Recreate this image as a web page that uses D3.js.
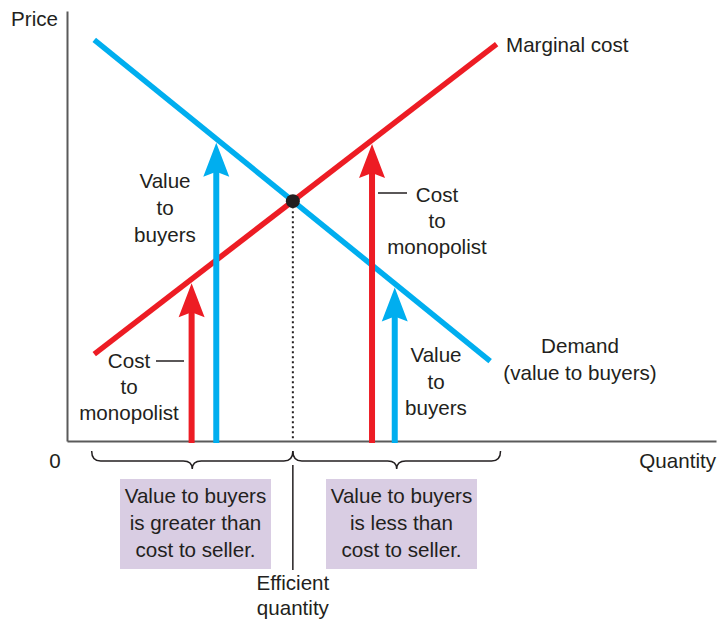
<!DOCTYPE html>
<html>
<head>
<meta charset="utf-8">
<script src="https://cdn.jsdelivr.net/npm/d3@7"></script>
<style>
  html, body { margin: 0; padding: 0; background: #fff; }
  svg text { font-family: "Liberation Sans", Arial, Helvetica, sans-serif; fill: #231f20; }
</style>
</head>
<body>
<svg id="chart" width="727" height="622"></svg>
<script>
// ---- Data (quantity / price units, 0–100) ----
const demandQ = [4.2, 65.2];
const demandP = [93.3, 18.6];
const mcQ = [4.2, 66.2];
const mcP = [20.2, 92.3];
const efficientQ = 34.8;
const arrowQ = [19.2, 23.0, 47.0, 50.5];
const arrowCurve = ["mc", "demand", "mc", "demand"];
const braceFrom = [3.8, 34.8];
const braceTo = [34.8, 66.8];
const boxLines = [
  ["Value to buyers", "is greater than", "cost to seller."],
  ["Value to buyers", "is less than", "cost to seller."]
];
const axisLabels = { x: "Quantity", y: "Price", origin: "0" };

const RED = "#ed1c24", BLUE = "#00aeef", INK = "#231f20";
const FS = 20.6;

const svg = d3.select("#chart");
const x = d3.scaleLinear().domain([0, 100]).range([67, 716]);
const y = d3.scaleLinear().domain([0, 100]).range([441, 11]);

function lineAt(qs, ps, q) {
  return ps[0] + (ps[1] - ps[0]) * (q - qs[0]) / (qs[1] - qs[0]);
}
const curveP = (c, q) => c === "mc" ? lineAt(mcQ, mcP, q) : lineAt(demandQ, demandP, q);
const efficientP = curveP("mc", efficientQ);

// ---- Axes ----
svg.append("g").attr("transform", `translate(0,${y(0)})`)
  .call(d3.axisBottom(x).tickValues([]).tickSizeOuter(0));
svg.append("g").attr("transform", `translate(${x(0)},0)`)
  .call(d3.axisLeft(y).tickValues([]).tickSizeOuter(0));
svg.selectAll(".domain").attr("stroke", "#5a5a5a").attr("stroke-width", 2);

svg.append("text").attr("x", 58).attr("y", 26).attr("text-anchor", "end")
  .attr("font-size", FS).text(axisLabels.y);
svg.append("text").attr("x", 55).attr("y", 468).attr("text-anchor", "middle")
  .attr("font-size", FS).text(axisLabels.origin);
svg.append("text").attr("x", 716).attr("y", 468).attr("text-anchor", "end")
  .attr("font-size", FS).text(axisLabels.x);

// ---- Efficient quantity dotted line ----
svg.append("line")
  .attr("x1", x(efficientQ)).attr("x2", x(efficientQ))
  .attr("y1", y(efficientP)).attr("y2", y(0))
  .attr("stroke", INK).attr("stroke-width", 2).attr("stroke-dasharray", "2,3");

// ---- Curves ----
const line = d3.line().x(d => x(d[0])).y(d => y(d[1]));
svg.append("path").datum(demandQ.map((q, i) => [q, demandP[i]]))
  .attr("d", line).attr("stroke", BLUE).attr("stroke-width", 5.5).attr("fill", "none");
svg.append("path").datum(mcQ.map((q, i) => [q, mcP[i]]))
  .attr("d", line).attr("stroke", RED).attr("stroke-width", 5.5).attr("fill", "none");

// ---- Arrows ----
arrowQ.forEach((q, i) => {
  const col = arrowCurve[i] === "mc" ? RED : BLUE;
  const px = x(q);
  const tipY = y(curveP(arrowCurve[i], q)) + 4;
  svg.append("line").attr("x1", px).attr("x2", px)
    .attr("y1", y(0) + 2).attr("y2", tipY + 28)
    .attr("stroke", col).attr("stroke-width", 6);
  svg.append("path")
    .attr("d", `M${px},${tipY} L${px - 13},${tipY + 34} L${px},${tipY + 29} L${px + 13},${tipY + 34} Z`)
    .attr("fill", col);
});

// ---- Equilibrium point ----
svg.append("circle").attr("cx", x(efficientQ)).attr("cy", y(efficientP)).attr("r", 7).attr("fill", INK);

// ---- Labels ----
function block(cx, baselines, lines, size) {
  const t = svg.append("text").attr("text-anchor", "middle").attr("font-size", size || FS);
  lines.forEach((s, i) => t.append("tspan").attr("x", cx).attr("y", baselines[i]).text(s));
}
svg.append("text").attr("x", 506).attr("y", 52).attr("font-size", FS).text("Marginal cost");
block(165, [188, 215, 242], ["Value", "to", "buyers"]);
block(437, [202, 228, 254], ["Cost", "to", "monopolist"]);
svg.append("line").attr("x1", 378).attr("x2", 407).attr("y1", 193).attr("y2", 193)
  .attr("stroke", INK).attr("stroke-width", 1.5);
block(129, [368, 394, 420], ["Cost", "to", "monopolist"]);
svg.append("line").attr("x1", 156).attr("x2", 184).attr("y1", 361).attr("y2", 361)
  .attr("stroke", INK).attr("stroke-width", 1.5);
block(436, [362, 389, 415], ["Value", "to", "buyers"]);
block(580, [353, 380], ["Demand", "(value to buyers)"]);

// ---- Braces ----
function brace(x1, x2) {
  const yTop = 451, yMid = 461, yTip = 469, r = 9;
  const xc = (x1 + x2) / 2;
  return `M${x1},${yTop} Q${x1},${yMid} ${x1 + r},${yMid} L${xc - r},${yMid} ` +
    `Q${xc},${yMid} ${xc},${yTip} Q${xc},${yMid} ${xc + r},${yMid} ` +
    `L${x2 - r},${yMid} Q${x2},${yMid} ${x2},${yTop}`;
}
braceFrom.forEach((q, i) => {
  svg.append("path").attr("d", brace(x(q), x(braceTo[i])))
    .attr("fill", "none").attr("stroke", INK).attr("stroke-width", 1.5);
});
svg.append("line").attr("x1", x(efficientQ)).attr("x2", x(efficientQ))
  .attr("y1", 465).attr("y2", 570).attr("stroke", INK).attr("stroke-width", 1.5);

// ---- Boxes ----
const boxes = [{ x0: 120, x1: 271 }, { x0: 326, x1: 477 }];
boxes.forEach((b, i) => {
  svg.append("rect").attr("x", b.x0).attr("y", 479).attr("width", b.x1 - b.x0).attr("height", 90)
    .attr("fill", "#d9cde3");
  block((b.x0 + b.x1) / 2, [503, 530, 557], boxLines[i]);
});
block(x(efficientQ), [590, 615], ["Efficient", "quantity"]);
</script>
</body>
</html>
